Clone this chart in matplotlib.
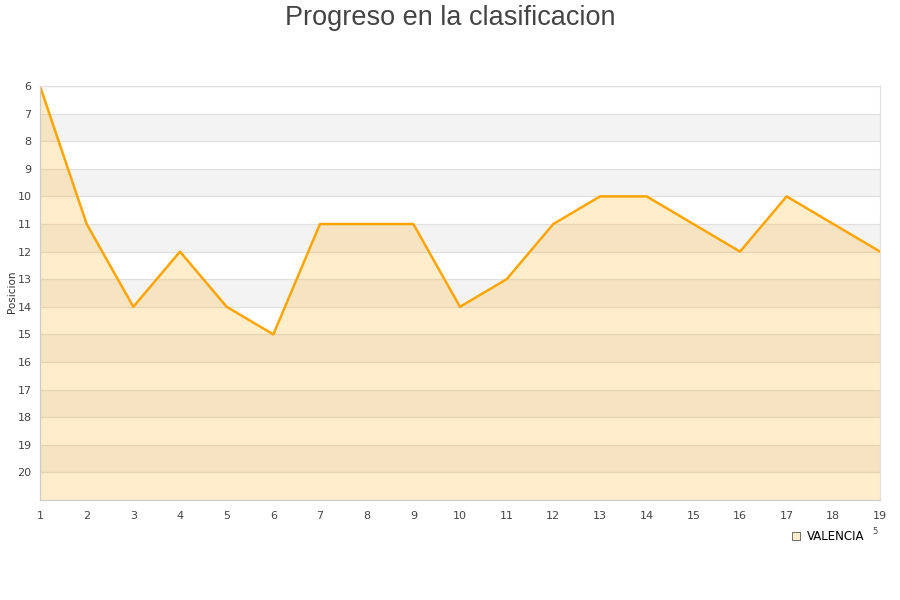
import matplotlib
matplotlib.use("Agg")
import matplotlib.pyplot as plt
from matplotlib.lines import Line2D

jornadas = list(range(1, 20))
posiciones = [6, 11, 14, 12, 14, 15, 11, 11, 11, 14, 13, 11, 10, 10, 11, 12, 10, 11, 12]
yticks = list(range(6, 21))
equipo = "VALENCIA"
titulo = "Progreso en la clasificacion"
ylabel = "Posicion"

fig = plt.figure(figsize=(9, 6), dpi=100)
ax = fig.add_axes([40/900, 1-500/600, 840/900, 414/600])

ax.set_xlim(1, 19)
ax.set_ylim(21, 6)

# alternating stripes
for k in range(7, 21, 2):
    ax.axhspan(k, k+1, color="#f3f3f3", zorder=0, lw=0)
for y in yticks:
    ax.axhline(y, color="#e0e0e0", lw=0.9, zorder=0.5)

ax.fill_between(jornadas, posiciones, 21, color="#ffa500", alpha=0.2, lw=0, zorder=1)
ax.plot(jornadas, posiciones, color="#ffa500", lw=1.8, zorder=2)

ax.set_xticks(jornadas)
ax.set_yticks(yticks)
ax.tick_params(axis="both", length=0, labelsize=8, colors="#444444", pad=6)
ax.tick_params(axis="x", pad=8)
for s in ["top", "right"]:
    ax.spines[s].set_color("#e0e0e0")
for s in ["left", "bottom"]:
    ax.spines[s].set_color("#cccccc")
for s in ax.spines.values():
    s.set_linewidth(0.9)

fig.text(12/900, 1-292/600, ylabel, rotation=90, ha="center", va="center", fontsize=7.5, color="#333333")
fig.text(450/900, 1-18/600, titulo, ha="center", va="center", fontsize=19.5,
         color="#444444", family=["Liberation Sans", "DejaVu Sans"])

handle = Line2D([], [], marker="s", ls="none", markersize=6, markerfacecolor="#ffedcc",
                markeredgecolor="#555555", markeredgewidth=0.6)
fig.legend([handle], [equipo], loc="center left", bbox_to_anchor=(784/900, 1-537/600),
           frameon=False, fontsize=8.5, handletextpad=0.4, handlelength=1.0, borderpad=0)
fig.text(875/900, 1-532/600, "5", ha="center", va="center", fontsize=6, color="#444444")

fig.savefig("out.png", dpi=100)
